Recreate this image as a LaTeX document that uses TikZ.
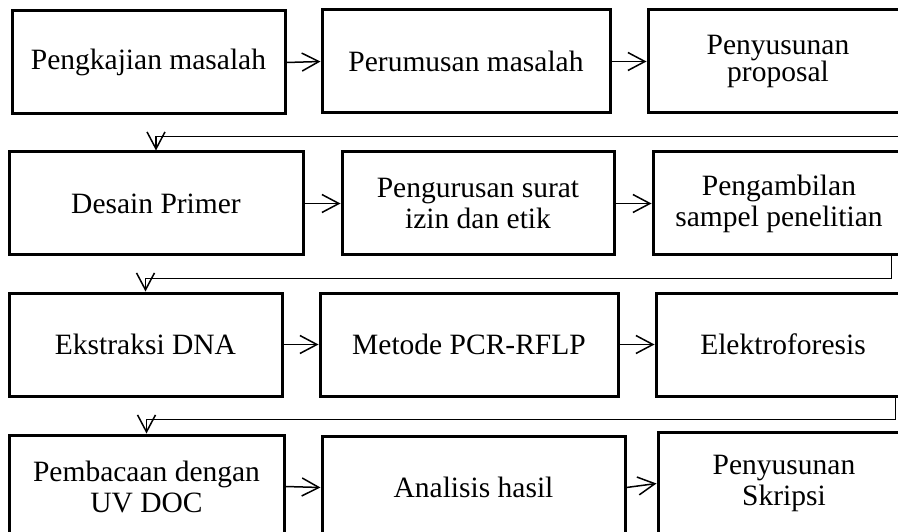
\documentclass[tikz,border=0pt]{standalone}
\usepackage{fontspec}
\setmainfont{Liberation Serif}
\usetikzlibrary{arrows.meta}
\tikzset{
  box/.style={draw, line width=3pt, align=center, inner sep=0pt,
    font=\fontsize{29.5}{31}\selectfont},
  arr/.style={-{Straight Barb[length=17pt,width=18pt]}, line width=1.5pt},
}
\begin{document}
\begin{tikzpicture}[x=1pt,y=-1pt]
\useasboundingbox (0,0) rectangle (898,532);
\clip (0,0) rectangle (898,532);
\node[box, minimum width=273pt, minimum height=103pt] (A) at (148.5,62.5) {Pengkajian masalah};
\node[box, minimum width=288pt, minimum height=103pt] (B) at (466,61.5) {Perumusan masalah};
\node[box, minimum width=260pt, minimum height=103pt, font=\fontsize{29.5}{23}\selectfont] (C) at (778,61.5) {Penyusunan\\proposal};
\node[box, minimum width=294pt, minimum height=103pt] (D) at (156,203.5) {Desain Primer};
\node[box, minimum width=272pt, minimum height=103pt] (E) at (478,203.5) {Pengurusan surat\\izin dan etik};
\node[box, minimum width=252pt, minimum height=103pt] (F) at (779,203.5) {Pengambilan\\sampel penelitian};
\node[box, minimum width=273pt, minimum height=103pt] (G) at (145.5,344.5) {Ekstraksi DNA};
\node[box, minimum width=298pt, minimum height=103pt] (H) at (469,344.5) {Metode PCR-RFLP};
\node[box, minimum width=254pt, minimum height=103pt] (I) at (783,344.5) {Elektroforesis};
\node[box, minimum width=275pt, minimum height=103pt] (J) at (146.5,486.5) {Pembacaan dengan\\UV DOC};
\node[box, minimum width=303pt, minimum height=103pt] (K) at (473.5,487.5) {Analisis hasil};
\node[box, minimum width=252pt, minimum height=103pt] (L) at (784,483.5) {Penyusunan\\Skripsi};
\draw[arr] (A.east) -- (B.west);
\draw[arr] (B.east) -- (C.west);
\draw[arr] ([xshift=-11pt]C.south east) -- ++(0,22) -| (D.north);
\draw[arr] (D.east) -- (E.west);
\draw[arr] (E.east) -- (F.west);
\draw[arr] ([xshift=-15pt]F.south east) -- ++(0,22) -| (G.north);
\draw[arr] (G.east) -- (H.west);
\draw[arr] (H.east) -- (I.west);
\draw[arr] ([xshift=-16pt]I.south east) -- ++(0,22) -| (J.north);
\draw[arr] (J.east) -- (K.west);
\draw[arr] (K.east) -- (L.west);
\end{tikzpicture}
\end{document}
